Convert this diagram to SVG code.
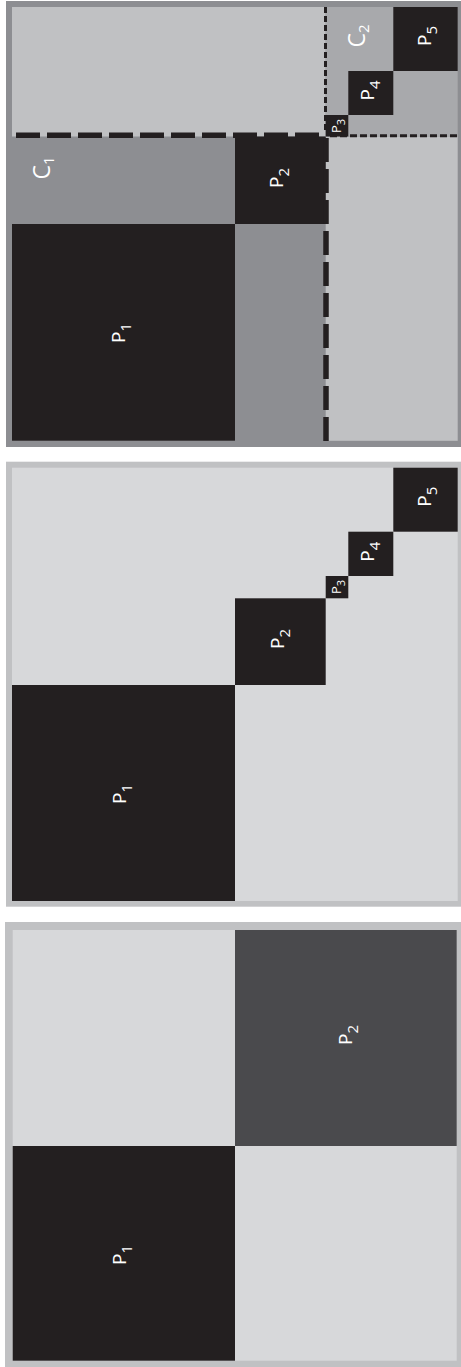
<svg xmlns="http://www.w3.org/2000/svg" width="461" height="1367" viewBox="0 0 461 1367">
<style>
.blk{fill:#231f20}
.lt{fill:#c0c1c3}
.lt2{fill:#d7d8da}
.lbl{fill:#ffffff;font-family:"Open Sans","Noto Sans","DejaVu Sans",sans-serif;text-anchor:middle}
.thick{stroke:#231f20;stroke-width:5.5;stroke-dasharray:24 7;fill:none}
.thin{stroke:#231f20;stroke-width:3;stroke-dasharray:6 3;fill:none}
</style>
<rect width="461" height="1367" fill="#ffffff"/>

<!-- Panel 1 -->
<g id="panel1">
  <rect x="6" y="1" width="455" height="446" fill="#8d8e92"/>
  <rect class="lt" x="12" y="7" width="313.7" height="129.5"/>
  <rect class="lt" x="325.7" y="136.5" width="132" height="304.3"/>
  <g id="p1-C2">
    <rect x="325.7" y="7" width="132" height="129.5" fill="#a8a9ac"/>
    <text class="lbl" font-size="23" transform="translate(365,36) rotate(-90)">C<tspan font-size="15" dy="4">2</tspan></text>
  </g>
  <g id="p1-C1">
    <text class="lbl" font-size="23" transform="translate(50,168) rotate(-90)">C<tspan font-size="15" dy="4">1</tspan></text>
  </g>
  <g id="p1-P1">
    <rect class="blk" x="12" y="224" width="223" height="216.7"/>
    <text class="lbl" font-size="19" transform="translate(124.5,333) rotate(-90)">P<tspan font-size="15" dy="6">1</tspan></text>
  </g>
  <g id="p1-P2">
    <rect class="blk" x="235" y="136.5" width="90.7" height="87.5"/>
    <text class="lbl" font-size="19" transform="translate(283.3,178) rotate(-90)">P<tspan font-size="15" dy="6">2</tspan></text>
  </g>
  <g id="p1-P3">
    <rect class="blk" x="325.7" y="115" width="22.6" height="21.5"/>
    <text class="lbl" font-size="13" transform="translate(340.7,126) rotate(-90)">P<tspan font-size="11" dy="4.5">3</tspan></text>
  </g>
  <g id="p1-P4">
    <rect class="blk" x="348.3" y="71" width="45" height="44"/>
    <text class="lbl" font-size="19" transform="translate(373.8,90.5) rotate(-90)">P<tspan font-size="15" dy="6">4</tspan></text>
  </g>
  <g id="p1-P5">
    <rect class="blk" x="393.3" y="7" width="64.4" height="64"/>
    <text class="lbl" font-size="19" transform="translate(430.8,36) rotate(-90)">P<tspan font-size="15" dy="6">5</tspan></text>
  </g>
</g>

<g id="connectors">
  <line class="thick" x1="16" y1="135.3" x2="320" y2="135.3"/>
  <line class="thick" x1="326" y1="138" x2="326" y2="441"/>
  <line class="thin" x1="325.5" y1="7" x2="325.5" y2="133"/>
  <line class="thin" x1="330" y1="135.8" x2="458" y2="135.8" style="stroke-dasharray:7 3"/>
</g>

<!-- Panel 2 -->
<g id="panel2">
  <rect class="lt" x="6" y="461.7" width="455" height="445"/>
  <rect class="lt2" x="12" y="467.7" width="445.7" height="433.3"/>
  <g id="p2-P1">
    <rect class="blk" x="12" y="685" width="223" height="216"/>
    <text class="lbl" font-size="19" transform="translate(125.5,794) rotate(-90)">P<tspan font-size="15" dy="6">1</tspan></text>
  </g>
  <g id="p2-P2">
    <rect class="blk" x="235" y="598.3" width="90.7" height="86.7"/>
    <text class="lbl" font-size="19" transform="translate(283.5,639) rotate(-90)">P<tspan font-size="15" dy="6">2</tspan></text>
  </g>
  <g id="p2-P3">
    <rect class="blk" x="325.7" y="576" width="22.6" height="22.3"/>
    <text class="lbl" font-size="13" transform="translate(340.7,587) rotate(-90)">P<tspan font-size="11" dy="4.5">3</tspan></text>
  </g>
  <g id="p2-P4">
    <rect class="blk" x="348.3" y="531.7" width="45" height="44.3"/>
    <text class="lbl" font-size="19" transform="translate(374.1,551.7) rotate(-90)">P<tspan font-size="15" dy="6">4</tspan></text>
  </g>
  <g id="p2-P5">
    <rect class="blk" x="393.3" y="467.7" width="64.4" height="64"/>
    <text class="lbl" font-size="19" transform="translate(430.5,496.7) rotate(-90)">P<tspan font-size="15" dy="6">5</tspan></text>
  </g>
</g>

<!-- Panel 3 -->
<g id="panel3">
  <rect class="lt" x="5" y="922" width="456" height="445"/>
  <rect class="lt2" x="12.7" y="930" width="444" height="430.7"/>
  <g id="p3-P2">
    <rect x="235" y="930" width="221.7" height="216" fill="#4a4a4d"/>
    <text class="lbl" font-size="19" transform="translate(352.1,1035) rotate(-90)">P<tspan font-size="15" dy="6">2</tspan></text>
  </g>
  <g id="p3-P1">
    <rect class="blk" x="12.7" y="1146" width="222.3" height="214.7"/>
    <text class="lbl" font-size="19" transform="translate(125.5,1255) rotate(-90)">P<tspan font-size="15" dy="6">1</tspan></text>
  </g>
</g>
</svg>
